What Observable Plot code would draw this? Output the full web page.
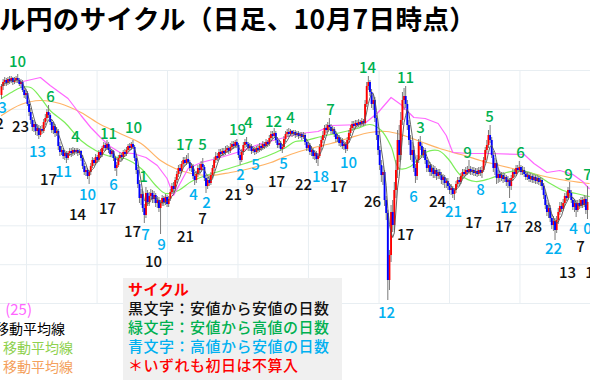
<!DOCTYPE html>
<html><head><meta charset="utf-8">
<script src="https://cdn.jsdelivr.net/npm/d3@7"></script>
<script src="https://cdn.jsdelivr.net/npm/@observablehq/plot@0.6"></script>
<style>
body{margin:0;background:#fff;}
#wrap{position:relative;width:590px;height:380px;overflow:hidden;font-family:"Noto Sans CJK JP",sans-serif;}
#chart{position:absolute;left:0;top:0;}
.t{position:absolute;white-space:nowrap;}
</style></head><body>
<div id="wrap">
<div id="chart"></div>
<div class="t" style="left:-1px;top:2px;font-size:26.5px;font-weight:700;line-height:32px;letter-spacing:0.4px;color:#000">ル円のサイクル（日足、10月7日時点）</div>
<div class="t" style="right:558px;top:300px;font-size:15px;line-height:18px;color:#ff66ff">(25)</div>
<div class="t" style="right:525px;top:319px;font-size:14px;line-height:18px;color:#000">移動平均線</div>
<div class="t" style="right:517px;top:338px;font-size:14px;line-height:18px;color:#8fd14f">移動平均線</div>
<div class="t" style="right:517px;top:357px;font-size:14px;line-height:18px;color:#f4a15d">移動平均線</div>
<div style="position:absolute;left:123px;top:278px;width:219px;height:110px;background:#f0f0f0;padding:1px 0 0 5px;box-sizing:border-box;font-size:15px;line-height:19px;letter-spacing:0.5px;font-weight:500;white-space:nowrap">
<div style="color:#ff0000;font-weight:700">サイクル</div>
<div style="color:#111">黒文字：安値から安値の日数</div>
<div style="color:#00b050">緑文字：安値から高値の日数</div>
<div style="color:#00b0f0">青文字：高値から安値の日数</div>
<div style="color:#ff0000">＊いずれも初日は不算入</div>
</div>
</div>
<script>
// Daily candles (price units), day index 0..361
const open0 = 140.5;
const close = [
141.4,141.8,142.0,141.7,142.1,141.9,142.2,141.8,142.0,142.2,
142.0,141.6,141.8,141.0,140.5,140.7,139.6,138.8,138.0,137.3,
137.6,136.9,137.2,136.5,137.1,136.9,137.8,138.2,138.8,138.5,
137.8,137.0,137.4,136.7,136.9,135.4,134.8,135.0,134.4,134.7,
134.2,134.7,134.9,134.7,135.0,134.8,135.0,134.7,134.9,134.2,
133.4,132.8,133.0,132.4,132.8,133.4,134.0,133.7,134.3,134.0,
134.8,134.5,135.2,135.5,135.2,135.6,135.0,134.6,134.9,134.2,
133.2,133.5,134.2,134.5,134.3,134.8,134.6,135.0,135.4,135.2,
135.6,135.3,134.2,133.0,131.6,130.2,130.6,129.2,128.5,130.7,
129.8,130.4,130.7,130.1,130.5,129.7,130.0,129.2,129.7,130.2,
129.8,130.3,129.6,130.1,130.8,131.4,131.1,132.0,132.6,133.2,
132.9,133.6,134.0,133.7,134.1,133.8,133.2,133.4,132.4,132.0,
132.6,133.2,133.0,133.6,133.3,132.2,131.4,132.0,131.7,132.5,
133.2,134.0,134.4,134.2,134.8,134.6,134.9,134.7,135.0,135.2,
134.9,135.3,135.6,135.4,135.8,135.5,134.5,134.0,134.8,135.5,
135.8,135.6,135.2,135.4,134.9,135.1,134.8,135.2,135.0,135.4,
135.2,135.6,135.4,135.8,135.6,136.2,136.6,136.4,136.7,136.0,
135.5,135.7,135.1,135.3,136.1,136.6,136.8,136.6,136.9,136.6,
136.8,136.5,136.7,136.4,136.6,136.3,136.5,135.8,135.2,135.5,
134.8,135.0,134.4,134.7,134.1,134.4,135.3,136.0,136.5,137.2,
137.0,137.5,137.3,136.9,137.1,136.6,136.1,136.3,135.7,136.0,
135.4,135.6,135.1,136.0,136.7,137.2,137.6,137.4,137.7,137.5,
137.8,137.6,137.9,137.7,139.6,141.4,141.8,140.8,139.6,140.0,
138.2,136.5,135.0,133.5,132.5,132.8,130.0,128.7,122.0,124.5,
128.8,127.5,131.0,133.0,136.0,134.5,138.0,140.0,140.4,139.6,
137.5,136.0,134.5,135.0,133.2,132.4,134.0,135.8,135.4,134.5,
135.0,134.0,133.2,133.5,132.8,133.2,132.6,133.0,132.4,132.8,
132.5,132.0,132.3,131.7,131.9,131.4,131.0,131.2,130.6,131.0,
131.6,132.0,131.8,132.4,132.8,132.6,133.0,132.8,133.1,132.8,
133.0,132.7,132.9,132.6,133.0,132.7,133.0,134.0,135.0,135.5,
136.5,136.0,134.5,133.2,133.7,132.2,132.6,132.2,132.5,132.1,
132.3,131.8,132.0,131.4,132.2,132.8,132.6,133.2,133.0,133.3,
132.8,133.0,132.6,132.3,132.5,132.1,132.4,132.0,132.3,131.9,
132.2,131.8,132.0,131.4,130.5,129.5,128.8,129.2,128.2,127.5,
127.9,127.0,128.0,128.8,129.4,129.1,129.7,130.4,130.2,131.0,
130.7,130.0,129.3,129.7,129.0,129.7,129.4,130.0,129.5,130.1,
129.0,129.8];
const high = [
141.6,142.1,142.3,142.2,142.3,142.4,142.4,142.3,142.3,142.4,
142.6,142.2,142.1,142.0,141.4,141.1,140.9,139.9,139.2,138.3,
138.0,137.8,137.6,137.5,137.4,137.5,138.1,138.6,139.1,139.5,
138.7,138.1,137.8,137.6,137.3,137.1,135.8,135.4,135.2,135.0,
134.9,134.9,135.2,135.2,135.3,135.2,135.2,135.2,135.1,135.0,
134.5,133.7,133.4,133.2,133.0,133.7,134.3,134.2,134.6,134.5,
135.0,135.1,135.4,135.8,135.7,136.0,135.8,135.3,135.1,135.0,
134.4,133.8,134.5,134.8,134.7,135.0,135.1,135.3,135.6,135.7,
135.8,136.0,135.5,134.4,133.3,132.0,131.1,130.9,129.6,131.3,
131.0,130.8,131.1,131.0,130.9,130.7,130.4,130.3,130.0,130.5,
130.4,130.6,130.5,130.4,131.1,131.7,131.8,132.3,132.9,133.5,
133.6,133.9,134.3,134.3,134.5,134.7,134.0,133.7,133.6,132.8,
132.9,133.5,133.6,133.9,134.2,133.5,132.5,132.3,132.4,132.8,
133.5,134.3,134.8,134.7,135.1,135.1,135.2,135.2,135.4,135.5,
135.4,135.7,135.9,135.9,136.0,136.1,135.7,134.8,135.1,135.8,
136.1,136.3,135.8,135.7,135.6,135.4,135.3,135.4,135.5,135.7,
135.6,135.9,135.8,136.1,136.0,136.5,136.9,136.9,137.2,136.9,
136.3,136.0,135.9,135.6,136.4,136.9,137.1,137.2,137.1,137.0,
137.0,137.0,136.9,136.9,136.8,136.8,136.8,136.7,136.1,135.8,
135.7,135.4,135.2,135.0,134.9,134.7,135.6,136.3,136.9,137.5,
137.6,137.8,138.2,137.6,137.4,137.3,136.9,136.6,136.5,136.3,
136.2,135.9,135.8,136.3,137.0,137.5,137.9,137.9,138.0,138.0,
138.1,138.0,138.2,138.1,140.0,141.8,142.4,142.0,141.1,140.5,
140.3,138.5,136.9,135.4,134.0,133.4,133.0,130.4,129.0,125.0,
129.5,130.0,131.8,134.0,137.0,137.5,138.8,140.8,141.2,141.4,
140.0,138.0,136.5,135.8,135.4,133.6,134.5,136.1,136.4,135.7,
135.3,135.2,134.3,133.9,133.8,133.6,133.5,133.4,133.2,133.1,
133.1,132.8,132.6,132.5,132.2,132.2,131.7,131.6,131.4,131.2,
131.9,132.3,132.3,132.7,133.1,133.1,133.3,133.4,134.0,133.4,
133.3,133.3,133.2,133.2,133.3,133.3,133.4,134.3,135.3,136.0,
137.0,137.5,136.3,134.9,134.2,134.0,133.0,132.9,132.8,132.8,
132.7,132.5,132.4,132.2,132.5,133.1,133.1,133.5,133.5,133.9,
133.5,133.4,133.3,132.9,132.8,132.8,132.7,132.6,132.6,132.5,
132.5,132.4,132.3,132.2,131.7,130.8,130.0,129.7,129.5,128.6,
128.4,128.2,128.4,129.2,129.8,129.8,130.1,130.7,130.8,131.3,
131.8,131.0,130.3,130.1,130.0,130.0,130.1,130.3,130.3,130.5,
130.4,131.4];
const low = [
140.1,141.0,141.4,141.4,141.5,141.6,141.7,141.5,141.6,141.7,
141.7,141.4,141.2,140.8,140.2,140.1,139.4,138.4,137.6,136.9,
136.8,136.5,136.4,136.1,136.3,136.6,136.7,137.5,137.9,138.2,
137.5,136.7,136.6,136.3,136.4,135.0,134.4,134.5,134.1,134.0,
133.7,134.0,134.4,134.3,134.4,134.5,134.6,134.4,134.5,133.9,
133.1,132.5,132.4,132.1,131.6,132.5,133.2,133.4,133.5,133.7,
133.8,134.2,134.3,134.9,134.9,135.0,134.7,134.3,134.4,133.9,
132.9,132.4,133.3,133.9,134.0,134.1,134.3,134.4,134.8,134.9,
135.0,135.1,133.9,132.6,131.2,129.7,129.5,128.8,127.7,128.2,
129.4,129.4,130.0,129.7,129.7,129.3,129.2,128.8,126.6,129.4,
129.4,129.5,129.3,129.3,129.9,130.6,130.8,130.9,131.7,132.3,
132.6,132.7,133.3,133.4,133.5,133.6,132.9,132.8,132.1,131.5,
131.7,132.3,132.7,132.8,133.0,131.9,130.7,131.1,131.4,131.5,
132.2,132.9,133.7,133.9,134.0,134.3,134.4,134.4,134.5,134.7,
134.6,134.7,135.0,135.1,135.2,135.2,134.2,133.5,133.8,134.5,
135.2,135.3,134.9,134.9,134.6,134.7,134.5,134.6,134.7,134.8,
134.9,135.0,135.1,135.2,135.3,135.4,135.9,136.1,136.2,135.7,
135.2,135.2,134.9,134.7,135.1,135.8,136.3,136.3,136.4,136.3,
136.4,136.2,136.3,136.1,136.2,136.0,136.1,135.5,134.9,134.9,
134.5,134.4,134.1,134.0,133.7,133.4,134.2,135.0,135.7,136.2,
136.7,136.8,137.0,136.6,136.6,136.3,135.8,135.8,135.4,135.3,
135.1,135.0,134.7,134.9,135.7,136.4,136.9,137.1,137.1,137.2,
137.3,137.3,137.4,137.4,137.5,139.3,141.0,140.4,139.2,139.0,
137.8,136.0,134.5,133.0,131.8,131.5,129.4,128.0,120.0,121.0,
123.8,126.8,127.0,130.2,132.2,133.8,134.0,137.5,139.0,139.2,
137.0,135.5,134.0,133.8,132.8,131.7,132.0,133.7,135.0,134.2,
134.2,133.6,132.8,132.8,132.4,132.4,132.2,132.2,132.0,132.1,
132.1,131.6,131.5,131.2,131.2,131.0,130.6,130.5,130.2,130.0,
130.7,131.3,131.4,131.6,132.1,132.3,132.4,132.5,132.6,132.5,
132.5,132.4,132.4,132.3,132.4,132.4,132.2,132.8,133.7,134.7,
135.2,135.7,134.2,132.8,132.5,131.6,131.7,131.8,131.9,131.7,
131.8,131.4,131.2,130.2,131.0,131.9,132.3,132.4,132.7,132.8,
132.5,132.5,132.3,132.0,132.0,131.8,131.8,131.7,131.7,131.6,
131.6,131.5,131.4,131.0,130.1,129.1,128.4,128.2,127.8,127.1,
126.9,126.0,126.7,127.6,128.5,128.8,128.9,129.4,129.9,130.0,
130.4,129.7,129.0,128.8,128.3,128.8,129.1,129.2,129.2,129.3,
128.6,128.1];

// Moving-average lines (day, price)
const greenDay = [0,6,12,18,24,30,39,49,58,67,76,86,95,101,109,117,126,138,150,163,174,181,187,197,209,219,227,234,240,245,252,260,269,275,283,292,301,311,320,329,338,346,354,362];
const greenMA  = [140.2,140.8,141.3,141.3,140.3,139.0,137.8,136.0,135.0,134.4,134.2,133.2,131.5,130.7,131.0,131.9,132.5,133.1,133.7,134.4,135.2,135.9,136.0,136.4,136.8,137.2,137.6,137.0,135.4,133.2,133.4,134.7,135.0,134.2,132.5,131.9,132.2,132.8,133.0,132.6,131.7,131.0,130.7,130.4];
const orangeDay = [0,12,24,36,49,61,73,86,98,107,117,129,141,153,166,178,190,203,215,227,237,246,258,270,283,295,307,320,332,344,357,362];
const orangeMA  = [138.5,139.6,140.0,139.7,138.8,137.6,136.7,135.7,134.0,133.2,132.7,132.5,132.8,133.2,133.8,134.6,135.2,135.7,136.3,136.8,136.9,136.6,135.9,135.2,134.6,134.0,133.5,133.0,132.5,132.1,131.8,131.7];
const pinkDay = [10.5,24,30,41,49,55,61,67,73,81,89,96,102,106,110,115,123,135,147,160,172,184,195,203,223,232,240,246,254,261,269,274,278,289,301,322,328,336,344,352,358,362];
const pinkLine = [141.8,142.3,141.5,140.2,138.5,137.3,136.3,135.4,134.8,134.7,134.3,133.5,132.2,130.5,131.7,133.2,133.8,134.3,134.9,135.7,136.2,136.7,136.9,137.5,137.6,138.8,140.3,139.6,138.3,138.2,137.7,136.5,134.8,134.7,134.7,134.6,133.7,132.8,133.0,132.6,131.9,131.2];

// Cycle labels: [text, day, price]
const greenLabels = [["10",9.9,143.8],["6",30.2,140.3],["4",45.6,136.3],["11",65.9,136.6],["10",81.3,137.2],["1",87.5,132.3],["17",112.8,135.5],["5",123.8,135.5],["19",145.4,137.0],["4",152.2,137.7],["12",167.6,137.8],["4",178.0,138.2],["7",202.7,139.0],["14",225.5,143.2],["11",248.9,142.2],["3",258.1,137.2],["9",287.1,134.7],["5",300.6,138.3],["6",319.7,134.7],["9",349.3,132.5],["7",361.0,132.5]];
const blueLabels = [["3",0.6,139.2],["13",22.2,134.8],["11",38.2,132.8],["10",53.0,130.5],["6",69.0,131.5],["7",88.7,126.5],["9",98.6,125.5],["4",118.3,130.5],["2",126.3,129.7],["2",147.2,132.5],["5",156.5,133.5],["5",173.7,133.6],["18",196.5,132.3],["10",213.8,133.7],["12",237.2,118.7],["6",253.8,130.3],["21",278.5,128.8],["8",295.1,131.0],["12",312.3,129.2],["22",340.1,125.1],["4",352.4,127.1],["0",361.0,127.1]];
const blackLabels = [["2",-1.2,137.6],["23",11.7,137.3],["17",29.0,132.0],["14",46.8,128.5],["17",65.3,129.1],["17",80.7,126.8],["10",93.7,123.8],["21",113.4,126.3],["7",123.8,128.1],["21",142.9,130.5],["9",152.8,131.0],["17",169.4,131.8],["22",186.1,131.5],["17",207.6,131.3],["26",228.6,129.8],["17",248.9,126.5],["24",268.6,129.8],["17",290.8,127.7],["17",309.3,127.3],["28",327.7,127.3],["13",348.7,122.7],["7",356.7,125.3],["1",362.3,122.7]];

// Faint grid
const gridDays = [15.4,58.9,102.3,145.7,189.1,232.6,276.0,319.4];
const gridPrices = [143.0,139.12,135.23,131.35,127.47,123.58,119.7];

const candles = close.map((c, i) => ({day: i, open: i === 0 ? open0 : close[i - 1], close: c, high: high[i], low: low[i]}));
const toPts = (ds, vs) => ds.map((d, i) => ({day: d, v: vs[i]}));
const toLab = (arr) => arr.map(([t, d, p]) => ({t, day: d, p}));
const font = "Noto Sans CJK JP";

const chart = Plot.plot({
  width: 590, height: 380,
  marginTop: 0, marginBottom: 0, marginLeft: 0, marginRight: 0,
  x: {domain: [-0.6, 362.85], axis: null},
  y: {domain: [112, 150], axis: null},
  style: {background: "transparent", overflow: "visible"},
  marks: [
    Plot.ruleX(gridDays, {x: d => d, y1: 119.7, y2: 143.0, stroke: "#e8eef2", strokeWidth: 1}),
    Plot.ruleY(gridPrices, {y: d => d, x1: -0.6, x2: 362.85, stroke: "#e8eef2", strokeWidth: 1}),
    Plot.line(toPts(orangeDay, orangeMA), {x: "day", y: "v", stroke: "#ffb366", strokeWidth: 1.2, curve: "catmull-rom"}),
    Plot.line(toPts(greenDay, greenMA), {x: "day", y: "v", stroke: "#7ded5a", strokeWidth: 1.2, curve: "catmull-rom"}),
    Plot.line(toPts(pinkDay, pinkLine), {x: "day", y: "v", stroke: "#ff66ff", strokeWidth: 1.2}),
    Plot.ruleX(candles, {x: "day", y1: "low", y2: "high", stroke: "#7a7a7a", strokeWidth: 1}),
    Plot.ruleX(candles.filter(d => d.close >= d.open), {x: "day", y1: "open", y2: "close", stroke: "#ff0000", strokeWidth: 1.9}),
    Plot.ruleX(candles.filter(d => d.close < d.open), {x: "day", y1: "open", y2: "close", stroke: "#0000ff", strokeWidth: 1.9}),
    Plot.lineY(candles, Plot.windowY({k: 5, anchor: "end"}, {x: "day", y: "close", stroke: "#555", strokeWidth: 0.9})),
    Plot.text(toLab(greenLabels), {x: "day", y: "p", text: "t", fill: "#00b050", fontSize: 15, fontWeight: 500, fontFamily: font}),
    Plot.text(toLab(blueLabels), {x: "day", y: "p", text: "t", fill: "#00b0f0", fontSize: 15, fontWeight: 500, fontFamily: font}),
    Plot.text(toLab(blackLabels), {x: "day", y: "p", text: "t", fill: "#111", fontSize: 15, fontWeight: 500, fontFamily: font})
  ]
});
document.getElementById("chart").appendChild(chart);
</script>
</body></html>
